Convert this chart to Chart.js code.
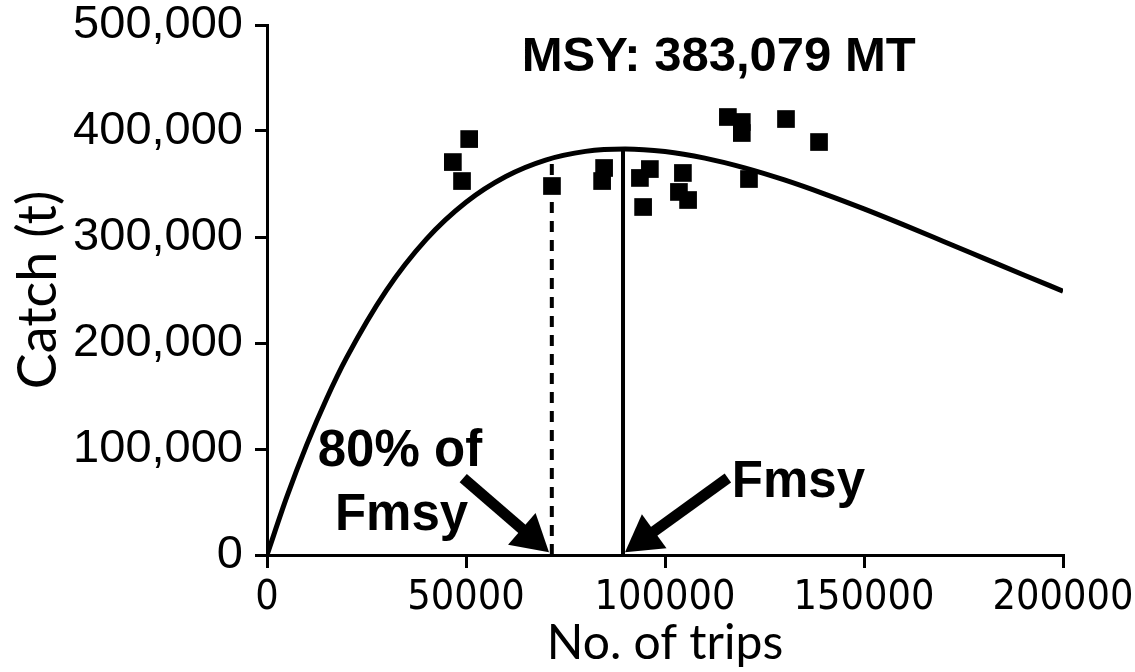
<!DOCTYPE html>
<html>
<head>
<meta charset="utf-8">
<script src="https://cdn.jsdelivr.net/npm/chart.js@4/dist/chart.umd.min.js"></script>
<style>
  body { margin: 0; background: #fff; }
  #wrap { width: 1135px; height: 672px; }
</style>
</head>
<body>
<div id="wrap"><canvas id="msyChart"></canvas></div>
<script>
// observed catch vs effort
const tripsObs = [46700, 49000, 50800, 71600, 84200, 84700, 93700, 94500, 96200, 103500, 104500, 105800, 115800, 119300, 119300, 121100, 130400, 138700];
const catchObs = [370700, 352800, 392400, 348100, 352800, 365100, 355700, 328300, 364100, 342500, 360400, 334900, 413200, 398100, 408500, 354700, 411300, 389600];

// fitted production curve
const curveTrips = [0, 5000, 10000, 15000, 20000, 30000, 40000, 50000, 60000, 70000, 80000, 90000, 100000, 110000, 120000, 130000, 140000, 150000, 160000, 170000, 180000, 190000, 200000];
const curveCatch = [0, 55000, 104100, 147700, 186200, 249700, 297800, 332800, 357100, 372600, 380800, 383070, 380600, 374400, 365200, 353800, 340700, 326500, 311400, 295800, 280100, 264400, 248900];

const msy = 383079;
const fmsy = 89450;
const fmsy80 = 71560;
const fmsy80Catch = 373600;

const xTicks = [0, 50000, 100000, 150000, 200000];

const black = '#000';
const arial = "'Liberation Sans', Arial, sans-serif";

function arrow(ctx, x1, y1, x2, y2) {
  const ang = Math.atan2(y2 - y1, x2 - x1);
  const headLen = 36, headW = 21;
  const bx = x2 - headLen * Math.cos(ang), by = y2 - headLen * Math.sin(ang);
  ctx.save();
  ctx.strokeStyle = black;
  ctx.fillStyle = black;
  ctx.lineWidth = 11;
  ctx.beginPath();
  ctx.moveTo(x1, y1);
  ctx.lineTo(bx + 4 * Math.cos(ang), by + 4 * Math.sin(ang));
  ctx.stroke();
  ctx.beginPath();
  ctx.moveTo(x2, y2);
  ctx.lineTo(bx + headW * Math.sin(ang), by - headW * Math.cos(ang));
  ctx.lineTo(bx - headW * Math.sin(ang), by + headW * Math.cos(ang));
  ctx.closePath();
  ctx.fill();
  ctx.restore();
}

const notes = {
  id: 'notes',
  afterDatasetsDraw(chart) {
    const ctx = chart.ctx;
    const x = chart.scales.x, y = chart.scales.y;
    const px = v => x.getPixelForValue(v);
    const py = v => y.getPixelForValue(v);
    ctx.save();
    ctx.fillStyle = black;
    ctx.textBaseline = 'alphabetic';

    ctx.font = 'bold 49px ' + arial;
    ctx.textAlign = 'center';
    ctx.fillText('MSY: ' + msy.toLocaleString('en-US') + ' MT', px(113500), py(457000));

    ctx.font = 'bold 51px ' + arial;
    ctx.fillText('80% of', px(33400), py(84000));
    ctx.fillText('Fmsy', px(33800), py(23500));
    ctx.textAlign = 'left';
    ctx.fillText('Fmsy', px(116800), py(54700));

    arrow(ctx, px(49300), py(72600), px(fmsy80 - 700), py(2500));
    arrow(ctx, px(115800), py(72600), px(fmsy + 500), py(2500));
    ctx.restore();
  }
};

new Chart(document.getElementById('msyChart'), {
  type: 'scatter',
  data: {
    datasets: [
      {
        type: 'line',
        data: curveTrips.map((t, i) => ({ x: t, y: curveCatch[i] })),
        borderColor: black,
        borderWidth: 5,
        pointRadius: 0,
        cubicInterpolationMode: 'monotone',
        order: 2
      },
      {
        type: 'line',
        data: [{ x: fmsy, y: 0 }, { x: fmsy, y: msy }],
        borderColor: black,
        borderWidth: 4,
        pointRadius: 0,
        order: 3
      },
      {
        type: 'line',
        data: [{ x: fmsy80, y: 0 }, { x: fmsy80, y: fmsy80Catch }],
        borderColor: black,
        borderWidth: 4,
        borderDash: [11, 8],
        pointRadius: 0,
        order: 3
      },
      {
        data: tripsObs.map((t, i) => ({ x: t, y: catchObs[i] })),
        pointStyle: 'rect',
        pointRadius: 12.5,
        pointHoverRadius: 12.5,
        backgroundColor: black,
        borderWidth: 0,
        order: 1
      }
    ]
  },
  options: {
    responsive: true,
    maintainAspectRatio: false,
    animation: false,
    events: [],
    layout: { padding: { top: 25, right: 72, left: 0, bottom: 0 } },
    plugins: { legend: { display: false }, tooltip: { enabled: false } },
    scales: {
      x: {
        type: 'linear',
        min: 0,
        max: 200000,
        afterFit: s => { s.height = 117; s.paddingLeft = 0; s.paddingRight = 0; },
        afterBuildTicks: s => { s.ticks = xTicks.map(v => ({ value: v })); },
        border: { color: black, width: 3 },
        grid: { drawOnChartArea: false, drawTicks: true, tickLength: 13, color: black, lineWidth: 3 },
        ticks: {
          color: black,
          padding: 6,
          maxRotation: 0,
          font: { family: "'Liberation Sans Narrow', 'DejaVu Sans Condensed', sans-serif", size: 41 },
          callback: v => String(v)
        },
        title: {
          display: true,
          text: 'No. of trips',
          color: black,
          font: { family: 'Lato, sans-serif', size: 48 },
          padding: { top: 0, bottom: 0 }
        }
      },
      y: {
        min: 0,
        max: 500000,
        afterFit: s => { s.width = 267; s.paddingTop = 0; s.paddingBottom = 0; },
        border: { color: black, width: 3 },
        grid: { drawOnChartArea: false, drawTicks: true, tickLength: 12, color: black, lineWidth: 3 },
        ticks: {
          stepSize: 100000,
          color: black,
          padding: 12,
          font: { family: arial, size: 47 },
          callback: v => v.toLocaleString('en-US')
        },
        title: {
          display: true,
          text: 'Catch (t)',
          color: black,
          font: { family: 'Lato, sans-serif', size: 54 },
          padding: { top: 6, bottom: 0 }
        }
      }
    }
  },
  plugins: [notes]
});
</script>
</body>
</html>
